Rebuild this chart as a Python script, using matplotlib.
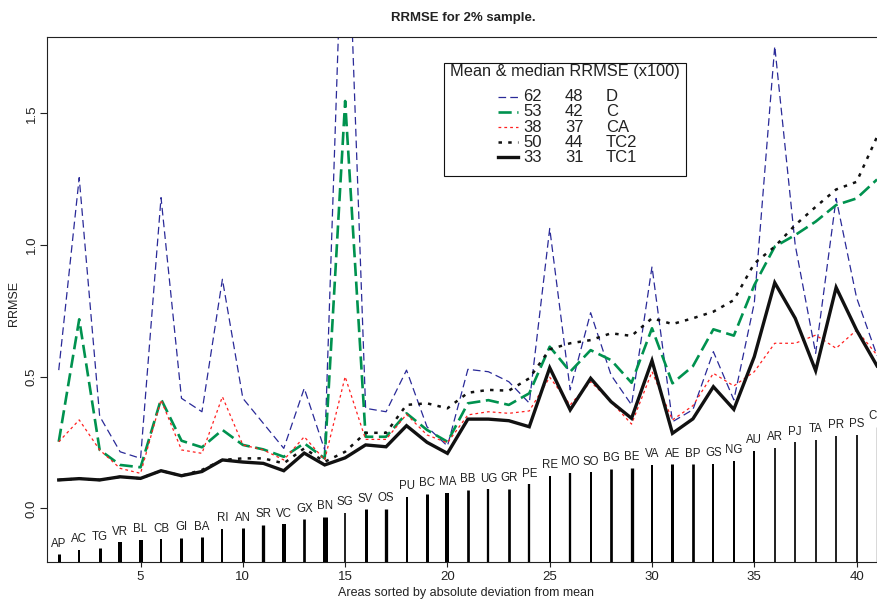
import matplotlib
matplotlib.use("Agg")
import matplotlib.pyplot as plt
from matplotlib.patches import Rectangle
from matplotlib.lines import Line2D
import numpy as np

plt.rcParams['font.family'] = ['Liberation Sans', 'DejaVu Sans']
plt.rcParams['lines.scale_dashes'] = False

# areas, sorted by absolute deviation from mean
areas = ["AP", "AC", "TG", "VR", "BL", "CB", "GI", "BA", "RI", "AN", "SR", "VC", "GX", "BN",
         "SG", "SV", "OS", "PU", "BC", "MA", "BB", "UG", "GR", "PE", "RE", "MO", "SO", "BG",
         "BE", "VA", "AE", "BP", "GS", "NG", "AU", "AR", "PJ", "TA", "PR", "PS", "CR"]

# deviation bars (top value) and relative weight of each area
dev_top = [-0.174, -0.158, -0.149, -0.129, -0.120, -0.117, -0.111, -0.110, -0.078, -0.076,
           -0.063, -0.060, -0.041, -0.031, -0.016, -0.004, -0.002, 0.043, 0.056, 0.058,
           0.070, 0.072, 0.074, 0.091, 0.124, 0.136, 0.137, 0.151, 0.153, 0.165,
           0.167, 0.167, 0.169, 0.181, 0.219, 0.229, 0.251, 0.261, 0.275, 0.279, 0.31]
area_wt = [3, 2, 3, 4, 4, 2, 3, 3, 2, 3, 3.3, 4, 2.7, 5, 1.7, 3, 3.3, 2, 3, 4,
           2.7, 2.3, 2.7, 2.3, 2, 2.3, 2, 2.7, 3.3, 2, 3, 2.7, 2, 2, 2, 1.7, 1.7, 1.7,
           1.7, 1.7, 1.3]

# RRMSE per estimator
rr_D = [0.525, 1.256, 0.35, 0.215, 0.19, 1.18, 0.418, 0.367, 0.87, 0.418,
        0.323, 0.228, 0.456, 0.222, 2.58, 0.38, 0.367, 0.525, 0.31, 0.237,
        0.528, 0.519, 0.481, 0.40, 1.063, 0.45, 0.743, 0.506, 0.393, 0.918,
        0.329, 0.375, 0.595, 0.412, 0.78, 1.755, 1.0, 0.589, 1.177, 0.80, 0.58]
rr_C = [0.253, 0.718, 0.222, 0.165, 0.156, 0.415, 0.257, 0.232, 0.298, 0.241,
        0.224, 0.196, 0.247, 0.19, 1.547, 0.272, 0.272, 0.361, 0.298, 0.253,
        0.399, 0.411, 0.393, 0.437, 0.614, 0.519, 0.601, 0.563, 0.477, 0.684,
        0.475, 0.54, 0.68, 0.656, 0.848, 0.994, 1.038, 1.089, 1.152, 1.177, 1.249]
rr_CA = [0.253, 0.336, 0.222, 0.152, 0.133, 0.412, 0.222, 0.209, 0.424, 0.241,
         0.222, 0.184, 0.272, 0.184, 0.5, 0.262, 0.262, 0.357, 0.279, 0.249,
         0.355, 0.367, 0.361, 0.37, 0.498, 0.393, 0.481, 0.405, 0.32, 0.519,
         0.336, 0.39, 0.513, 0.465, 0.519, 0.627, 0.627, 0.658, 0.608, 0.677, 0.582]
rr_TC2 = [0.108, 0.113, 0.108, 0.12, 0.114, 0.143, 0.124, 0.146, 0.184, 0.19,
          0.19, 0.171, 0.228, 0.177, 0.215, 0.287, 0.287, 0.393, 0.399, 0.38,
          0.439, 0.45, 0.447, 0.494, 0.604, 0.627, 0.639, 0.665, 0.655, 0.722,
          0.7, 0.722, 0.747, 0.791, 0.93, 0.994, 1.076, 1.145, 1.211, 1.24, 1.411]
rr_TC1 = [0.108, 0.113, 0.108, 0.12, 0.114, 0.143, 0.124, 0.14, 0.184, 0.176,
          0.171, 0.143, 0.21, 0.165, 0.192, 0.241, 0.234, 0.314, 0.251, 0.209,
          0.339, 0.339, 0.333, 0.31, 0.534, 0.374, 0.494, 0.405, 0.342, 0.561,
          0.285, 0.34, 0.462, 0.376, 0.576, 0.857, 0.722, 0.523, 0.839, 0.677, 0.541]

# legend table
est_names = ["D", "C", "CA", "TC2", "TC1"]
est_mean = ["62", "53", "38", "50", "33"]
est_median = ["48", "42", "37", "44", "31"]

series = [rr_D, rr_C, rr_CA, rr_TC2, rr_TC1]
styles = [
    dict(color='#2a2a98', lw=0.9, dashes=(5.5, 3.0)),
    dict(color='#00924f', lw=1.9, dashes=(9.5, 4.0)),
    dict(color='#ff2020', lw=0.9, dashes=(2.0, 2.2)),
    dict(color='#111111', lw=1.8, dashes=(2.5, 4.5)),
    dict(color='#111111', lw=2.4),
]

fig = plt.figure(figsize=(8.78, 6.02), dpi=100)
ax = fig.add_axes([0.0541, 0.0670, 0.9681, 0.8711])

x = np.arange(1, len(areas) + 1)
ymin, ymax = -0.2023, 1.789

# deviation bars with area codes
ax.vlines(x, ymin - 0.02, dev_top, colors='black', linewidth=np.array(area_wt) * 0.72)
for xi, top, lab in zip(x, dev_top, areas):
    ax.annotate(lab, (xi, top), xytext=(0, 5.5), textcoords='offset points',
                ha='center', va='baseline', fontsize=8.3, color='#222222')

for vals, st in zip(series, styles):
    ax.plot(x, vals, solid_joinstyle='miter', **st)

ax.set_xlim(0.45, 42.0)
ax.set_ylim(ymin, ymax)
ax.set_xticks([5, 10, 15, 20, 25, 30, 35, 40])
ax.set_yticks([0.0, 0.5, 1.0, 1.5])
ax.set_yticklabels(["0.0", "0.5", "1.0", "1.5"], rotation=90, va='center')
ax.tick_params(axis='x', direction='out', length=3.6, width=0.8, labelsize=9.5, pad=3, colors='#222222')
ax.tick_params(axis='y', direction='out', length=5, width=0.8, labelsize=9.5, pad=2, colors='#222222')
for sp in ax.spines.values():
    sp.set_linewidth(0.8)
    sp.set_color('#222222')

# legend box
def fy(py):
    return 1 - (py - 37.3) / 524.4

def fx(px):
    return (px - 47.5) / 850.0

ax.add_patch(Rectangle((fx(444), fy(176)), fx(686) - fx(444), fy(63) - fy(176),
                       transform=ax.transAxes, facecolor='white', edgecolor='#111111',
                       linewidth=0.8, zorder=5))
ax.text(fx(450), fy(71.7), "Mean & median RRMSE (x100)", transform=ax.transAxes,
        fontsize=11.8, ha='left', va='center', zorder=6, color='#222222')
for i, (nm, mn, md, st) in enumerate(zip(est_names, est_mean, est_median, styles)):
    yy = fy(96.7 + i * 15.2)
    ax.add_line(Line2D([fx(498), fx(518)], [yy, yy], transform=ax.transAxes, zorder=6, **st))
    ax.text(fx(523), yy, mn, transform=ax.transAxes, fontsize=12, ha='left', va='center',
            zorder=6, color='#222222')
    ax.text(fx(565), yy, md, transform=ax.transAxes, fontsize=12, ha='left', va='center',
            zorder=6, color='#222222')
    ax.text(fx(606), yy, nm, transform=ax.transAxes, fontsize=12, ha='left', va='center',
            zorder=6, color='#222222')

fig.text(463 / 878, 1 - 18 / 602, "RRMSE for 2% sample.", ha='center', va='center',
         fontsize=9.5, fontweight='bold', color='#222222')
fig.text(466 / 878, 1 - 593 / 602, "Areas sorted by absolute deviation from mean",
         ha='center', va='center', fontsize=9, color='#222222')
fig.text(14 / 878, 1 - 303 / 602, "RRMSE", rotation=90, ha='center', va='center',
         fontsize=9, color='#222222')

fig.savefig("out.png", dpi=100)
